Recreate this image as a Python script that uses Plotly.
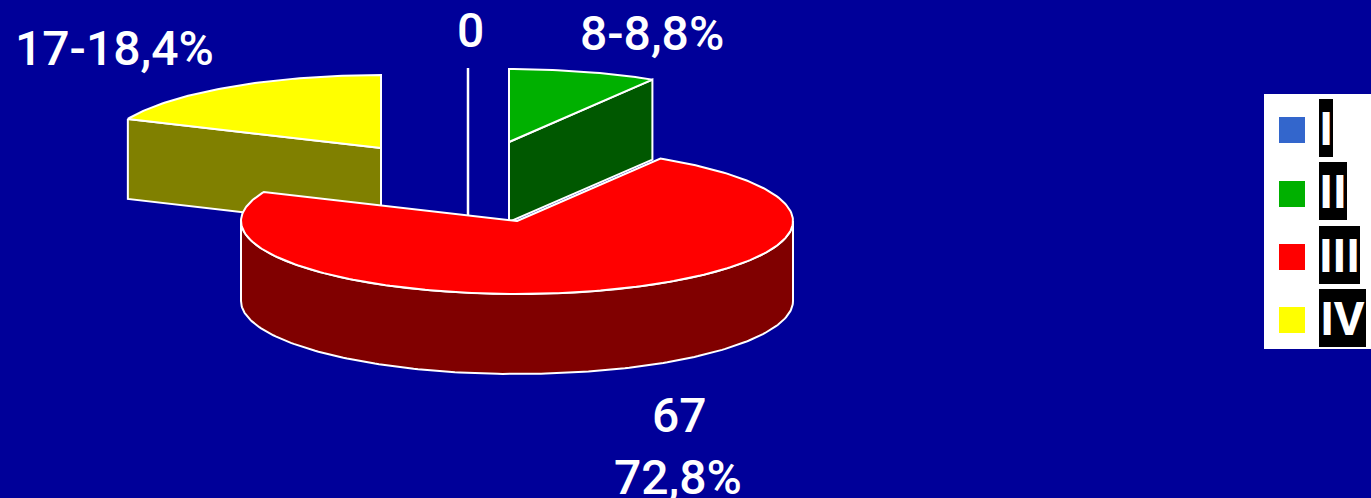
import numpy as np
import plotly.graph_objects as go

# Data
categories = ["I", "II", "III", "IV"]
values = [0, 8, 67, 17]
label_lines = [["0"], ["8-8,8%"], ["67", "72,8%"], ["17-18,4%"]]

# Styles
BG = "#000099"
top_colors = ["#3366CC", "#00B000", "#FF0000", "#FFFF00"]
side_colors = ["#1A3366", "#005800", "#800000", "#808000"]
centers = [(468, 141), (509, 142), (517, 221), (381, 148)]
RX, RY, DEPTH = 276, 73, 80
label_pos = [[(470, 30)], [(652, 33)], [(679, 415), (678, 477)], [(114, 48)]]
legend_rows = [128, 191, 255, 318]
legend_marker_rows = [130, 194, 257, 320]
legend_box_w = [14, 28, 41, 47]
FONT = "Roboto"

fracs = np.array(values, dtype=float) / sum(values)
edges = np.concatenate([[0], np.cumsum(fracs)]) * 2 * np.pi


def ell(c, a, dz=0):
    return c[0] + RX * np.sin(a), c[1] - RY * np.cos(a) + dz


fig = go.Figure()


def poly(xs, ys, fill, lw=2):
    fig.add_trace(go.Scatter(x=list(xs), y=list(ys), mode="lines", fill="toself",
                             fillcolor=fill, line=dict(color="white", width=lw),
                             hoverinfo="skip", showlegend=False))


def wedge(i):
    c = centers[i]
    a0, a1 = edges[i], edges[i + 1]
    if i == 3:  # left wall of slice IV
        xa, ya = ell(c, a0)
        poly([xa, c[0], c[0], xa, xa], [ya, c[1], c[1] + DEPTH, ya + DEPTH, ya], side_colors[i])
    if i == 1:  # right wall of slice II
        xa, ya = ell(c, a1)
        poly([c[0], xa, xa, c[0], c[0]], [c[1], ya, ya + DEPTH, c[1] + DEPTH, c[1]], side_colors[i])
    if i == 2:  # outer rim, front half
        a = np.linspace(np.pi / 2, 3 * np.pi / 2, 181)
        xt, yt = ell(c, a)
        xb, yb = ell(c, a[::-1], DEPTH)
        poly(np.r_[xt, xb, xt[0]], np.r_[yt, yb, yt[0]], side_colors[i])
    a = np.linspace(a0, a1, max(2, int(np.degrees(a1 - a0)) + 1))
    xt, yt = ell(c, a)
    poly(np.r_[c[0], xt, c[0]], np.r_[c[1], yt, c[1]], top_colors[i], 2)


# slice I has zero size: only its edge shows, from rim to base
xz, yz = ell(centers[0], edges[0])
fig.add_trace(go.Scatter(x=[xz, xz], y=[yz, centers[0][1] + DEPTH], mode="lines",
                         line=dict(color="white", width=2.5),
                         hoverinfo="skip", showlegend=False))
for idx in (3, 1, 2):
    wedge(idx)

# legend
for name, col, y in zip(categories, top_colors, legend_marker_rows):
    fig.add_trace(go.Scatter(x=[1292], y=[y], mode="markers", name=name,
                             marker=dict(symbol="square", size=26, color=col),
                             hoverinfo="skip", showlegend=False))

annotations = []
for lines, poss in zip(label_lines, label_pos):
    for t, (x, y) in zip(lines, poss):
        annotations.append(dict(x=x, y=y, xref="x", yref="y", text=t, showarrow=False,
                                xanchor="center", yanchor="middle",
                                font=dict(family=FONT, size=48, color="white", weight=500)))
for name, y, w in zip(categories, legend_rows, legend_box_w):
    annotations.append(dict(x=1319, y=y, xref="x", yref="y", text=name, showarrow=False,
                            xanchor="left", yanchor="middle", width=w, height=58, align="center",
                            valign="middle", bgcolor="black", borderpad=0, borderwidth=0,
                            font=dict(family=FONT, size=47, color="white", weight=700)))

fig.update_layout(
    width=1371, height=498, margin=dict(l=0, r=0, t=0, b=0, pad=0), autosize=False,
    paper_bgcolor=BG, plot_bgcolor=BG, showlegend=False,
    xaxis=dict(range=[0, 1371], visible=False, fixedrange=True),
    yaxis=dict(range=[498, 0], visible=False, fixedrange=True),
    annotations=annotations,
    shapes=[dict(type="rect", xref="x", yref="y", x0=1264, x1=1372, y0=94, y1=349,
                 fillcolor="white", line=dict(width=0), layer="below")],
)
fig.write_html("out.html", config={"displayModeBar": False},
               post_script="document.body.style.margin='0';document.body.style.background='#000099';")
